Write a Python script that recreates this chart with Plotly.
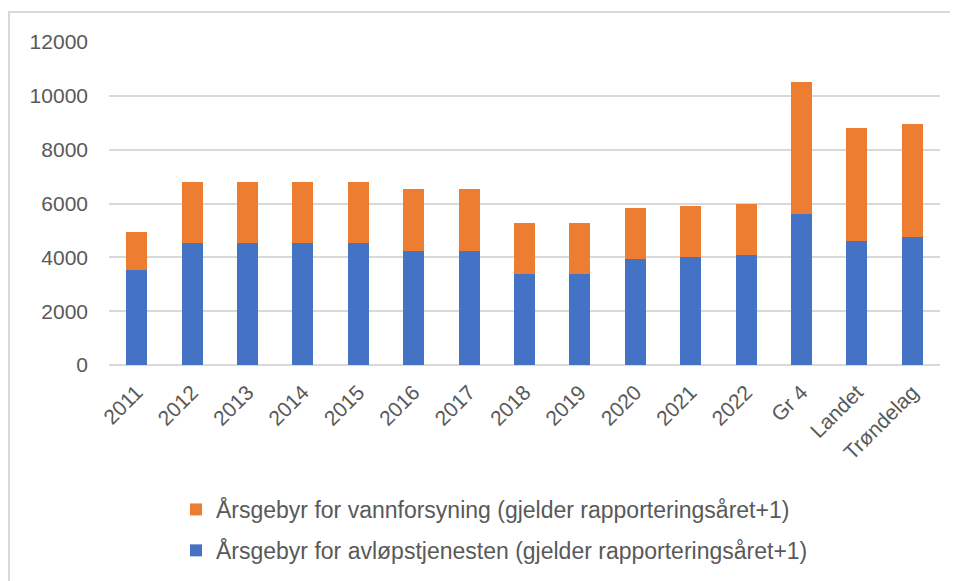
import plotly.graph_objects as go

categories = ["2011", "2012", "2013", "2014", "2015", "2016", "2017", "2018",
              "2019", "2020", "2021", "2022", "Gr 4", "Landet", "Trøndelag"]
avlop = [3530, 4520, 4520, 4520, 4520, 4235, 4235, 3380, 3380, 3950, 4000, 4086, 5620, 4620, 4755]
totals = [4945, 6790, 6790, 6790, 6790, 6550, 6550, 5265, 5265, 5845, 5895, 5995, 10515, 8795, 8940]
vann = [t - a for t, a in zip(totals, avlop)]

name_vann = "Årsgebyr for vannforsyning (gjelder rapporteringsåret+1)"
name_avlop = "Årsgebyr for avløpstjenesten (gjelder rapporteringsåret+1)"
y_ticks = [0, 2000, 4000, 6000, 8000, 10000, 12000]
y_ticktext = ["0", "2000", "4000", "6000", "8000", "10000", "12000"]

FONT = "Liberation Sans, Arial, sans-serif"
GREY = "#595959"

fig = go.Figure()
fig.add_trace(go.Bar(x=categories, y=avlop, name=name_avlop, marker_color="#4472C4",
                     legendgroup="b", legendrank=2, marker_line_width=0))
fig.add_trace(go.Bar(x=categories, y=vann, name=name_vann, marker_color="#ED7D31",
                     legendgroup="a", legendrank=1, marker_line_width=0))

# page has an 8px body margin, so figure coords = page coords - 8
L, R, T, B = 101, 18, 34, 216
W, H = 950, 573
pw, ph = W - L - R, H - T - B

def px(x):
    return (x - L) / pw

def py(y):
    return (H - B - y) / ph

fig.update_layout(
    width=W, height=H,
    margin=dict(l=L, r=R, t=T, b=B, autoexpand=False),
    barmode="stack", bargap=0.62,
    plot_bgcolor="white", paper_bgcolor="white",
    font=dict(family=FONT, color=GREY, size=21),
    xaxis=dict(tickangle=-45, showgrid=False, showline=False, ticks="",
               ticklabelstandoff=10, tickfont=dict(size=21, color=GREY)),
    yaxis=dict(range=[0, 12000], tickvals=y_ticks, ticktext=y_ticktext, showgrid=True,
               gridcolor="#d9d9d9", gridwidth=1.5, zeroline=True, zerolinecolor="#d9d9d9",
               zerolinewidth=1.5, showline=False, ticks="", ticklabelstandoff=20,
               tickfont=dict(size=21, color=GREY)),
    legend=dict(orientation="v", x=px(168), xanchor="left", y=py(480), yanchor="top",
                traceorder="grouped", tracegroupgap=8,
                font=dict(size=23, color=GREY), bgcolor="rgba(0,0,0,0)"),
    shapes=[
        dict(type="line", xref="paper", yref="paper", x0=px(0), x1=px(W + 2), y0=py(4), y1=py(4),
             line=dict(color="#d9d9d9", width=2)),
        dict(type="line", xref="paper", yref="paper", x0=px(1), x1=px(1), y0=py(4), y1=py(H + 2),
             line=dict(color="#d9d9d9", width=2)),
    ],
)

fig.write_html("out.html")
